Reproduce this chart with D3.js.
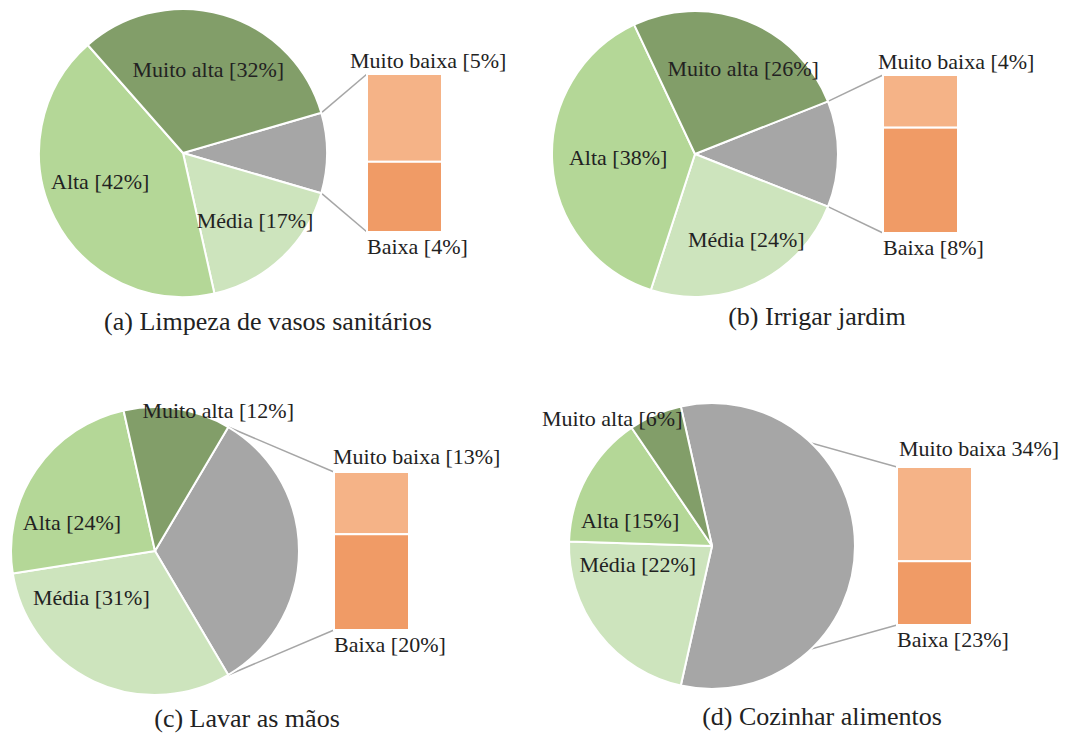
<!DOCTYPE html>
<html>
<head>
<meta charset="utf-8">
<script src="https://cdn.jsdelivr.net/npm/d3@7"></script>
<style>
  body { margin: 0; background: #fff; }
</style>
</head>
<body>
<div id="chart"></div>
<script>
// values per panel (a, b, c, d), in percent
const titles = ["(a) Limpeza de vasos sanitários", "(b) Irrigar jardim", "(c) Lavar as mãos", "(d) Cozinhar alimentos"];
const pieCategories = ["Média", "Alta", "Muito alta"];
const barCategories = ["Muito baixa", "Baixa"];
const muitoAlta = [32, 26, 12, 6];
const alta = [42, 38, 24, 15];
const media = [17, 24, 31, 22];
const muitoBaixa = [5, 4, 13, 34];
const baixa = [4, 8, 20, 23];

const colors = {
    "Muito alta": "#829e69",
    "Alta": "#b4d797",
    "Média": "#cde4bd",
    "outros": "#a6a6a6",
    "Muito baixa": "#f5b387",
    "Baixa": "#f09b66"
};

// panel layout (pixel placement only)
const layout = [
    { cx: 183, cy: 153, r: 144, barX: 367, topDx: -17, topDy: -6, titleX: 268, titleY: 330,
      nudge: { "Muito alta": [0, 3], "Alta": [-2, -13], "Média": [10, 1] }, topLabel: (v) => `Muito baixa [${v}%]` },
    { cx: 695, cy: 154, r: 143, barX: 883, topDx: -5, topDy: -6, titleX: 817, titleY: 325,
      nudge: { "Muito alta": [15, -2], "Alta": [13, -2], "Média": [13, 4] }, topLabel: (v) => `Muito baixa [${v}%]` },
    { cx: 155, cy: 551, r: 144, barX: 334, topDx: -1, topDy: -8, titleX: 247, titleY: 727,
      nudge: { "Muito alta": [49, -51], "Alta": [-8, 22], "Média": [-25, -36] }, topLabel: (v) => `Muito baixa [${v}%]` },
    { cx: 712, cy: 546, r: 143, barX: 897, topDx: 2, topDy: -11, titleX: 822, titleY: 725,
      nudge: { "Muito alta": [-64, -45], "Alta": [-3, 18], "Média": [-3, -37] }, topLabel: (v) => `Muito baixa ${v}%]` }
];

const barW = 75, barH = 158;
const labelSize = 22, titleSize = 26;
const serif = "'Liberation Serif', 'Times New Roman', Times, serif";

const svg = d3.select("#chart").append("svg")
    .attr("width", 1078)
    .attr("height", 738)
    .attr("font-family", serif)
    .style("font-family", serif);

titles.forEach((title, i) => {
    const L = layout[i];
    const other = muitoBaixa[i] + baixa[i];
    const slices = [
        { key: "outros", value: other },
        { key: "Média", value: media[i] },
        { key: "Alta", value: alta[i] },
        { key: "Muito alta", value: muitoAlta[i] }
    ];
    const total = d3.sum(slices, (d) => d.value);
    const otherAngle = other / total * 2 * Math.PI;
    const start = Math.PI / 2 - otherAngle / 2;

    const pie = d3.pie().sort(null).value((d) => d.value)
        .startAngle(start).endAngle(start + 2 * Math.PI);
    const arcs = pie(slices);
    const arc = d3.arc().innerRadius(0).outerRadius(L.r);
    const labelArc = d3.arc().innerRadius(L.r * 0.63).outerRadius(L.r * 0.63);

    const g = svg.append("g");

    // connector lines from the grey slice to the bar
    const barTop = L.cy - barH / 2;
    const y = d3.scaleLinear().domain([0, other]).range([barTop, barTop + barH]);
    const pt = (a) => [L.cx + Math.sin(a) * L.r, L.cy - Math.cos(a) * L.r];
    const o = arcs[0];
    [[pt(o.startAngle), [L.barX, y(0)]], [pt(o.endAngle), [L.barX, y(other)]]].forEach((seg) => {
        g.append("line")
            .attr("x1", seg[0][0]).attr("y1", seg[0][1])
            .attr("x2", seg[1][0]).attr("y2", seg[1][1])
            .attr("stroke", "#a6a6a6")
            .attr("stroke-width", 1.5);
    });

    const pg = g.append("g").attr("transform", `translate(${L.cx},${L.cy})`);
    pg.selectAll("path")
        .data(arcs)
        .join("path")
        .attr("d", arc)
        .attr("fill", (d) => colors[d.data.key])
        .attr("stroke", "#fff")
        .attr("stroke-width", 2)
        .attr("stroke-linejoin", "round");

    pg.selectAll("text")
        .data(arcs.filter((d) => d.data.key !== "outros"))
        .join("text")
        .attr("x", (d) => labelArc.centroid(d)[0] + L.nudge[d.data.key][0])
        .attr("y", (d) => labelArc.centroid(d)[1] + L.nudge[d.data.key][1])
        .attr("dy", "0.35em")
        .attr("text-anchor", "middle")
        .attr("fill", "#222")
        .style("font-size", labelSize + "px")
        .text((d) => `${d.data.key} [${d.data.value}%]`);

    // stacked bar: Muito baixa on top, Baixa below
    const bars = [
        { key: "Muito baixa", y0: 0, y1: muitoBaixa[i] },
        { key: "Baixa", y0: muitoBaixa[i], y1: other }
    ];
    g.selectAll("rect")
        .data(bars)
        .join("rect")
        .attr("x", L.barX)
        .attr("y", (d) => y(d.y0))
        .attr("width", barW)
        .attr("height", (d) => y(d.y1) - y(d.y0))
        .attr("fill", (d) => colors[d.key])
        .attr("stroke", "#fff")
        .attr("stroke-width", 2);

    g.append("text")
        .attr("x", L.barX + L.topDx)
        .attr("y", y(0) + L.topDy)
        .attr("fill", "#222")
        .style("font-size", labelSize + "px")
        .text(L.topLabel(muitoBaixa[i]));

    g.append("text")
        .attr("x", L.barX)
        .attr("y", y(other) + 22)
        .attr("fill", "#222")
        .style("font-size", labelSize + "px")
        .text(`Baixa [${baixa[i]}%]`);

    g.append("text")
        .attr("x", L.titleX)
        .attr("y", L.titleY)
        .attr("text-anchor", "middle")
        .attr("fill", "#222")
        .style("font-size", titleSize + "px")
        .text(title);
});
</script>
</body>
</html>
